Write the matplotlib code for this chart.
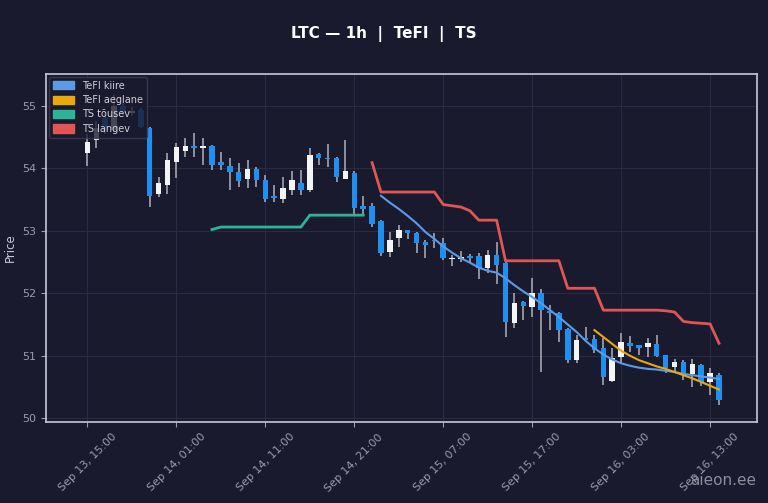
import numpy as np
import pandas as pd
import matplotlib
matplotlib.use("Agg")
import matplotlib.pyplot as plt
import matplotlib.dates as mdates
from matplotlib.patches import Patch

times = pd.date_range("2024-09-13 15:00", periods=72, freq="h")

opens = [54.25, 54.45, 54.80, 54.62, 55.00, 54.88, 54.94, 54.65, 53.59, 53.73,
         54.10, 54.28, 54.36, 54.33, 54.36, 54.10, 54.04, 53.94, 53.83, 53.99,
         53.81, 53.56, 53.51, 53.65, 53.77, 53.65, 54.23, 54.17, 54.17, 53.83,
         53.93, 53.40, 53.40, 53.16, 52.66, 52.88, 53.01, 52.96, 52.82, 52.85,
         52.80, 52.55, 52.55, 52.60, 52.60, 52.40, 52.61, 52.48, 51.52, 51.86,
         51.78, 52.00, 51.71, 51.68, 51.43, 50.93, 51.28, 51.27, 51.12, 50.60,
         50.98, 51.20, 51.17, 51.14, 51.19, 51.01, 50.82, 50.90, 50.71, 50.85,
         50.58, 50.70]
highs = [54.55, 54.75, 54.90, 55.18, 55.05, 54.98, 54.96, 54.66, 53.86, 54.25,
         54.41, 54.49, 54.57, 54.49, 54.38, 54.26, 54.17, 54.09, 54.13, 54.02,
         53.89, 53.73, 53.86, 53.96, 53.97, 54.33, 54.25, 54.39, 54.18, 54.46,
         53.95, 53.56, 53.45, 53.18, 52.98, 53.09, 53.02, 52.98, 52.85, 52.96,
         52.88, 52.61, 52.68, 52.63, 52.64, 52.69, 52.82, 52.50, 52.00, 51.88,
         52.24, 52.07, 51.81, 51.70, 51.45, 51.33, 51.46, 51.33, 51.28, 51.12,
         51.36, 51.31, 51.18, 51.28, 51.33, 51.02, 50.95, 50.93, 50.95, 50.87,
         50.80, 50.73]
lows = [54.04, 54.33, 54.55, 54.58, 54.85, 54.84, 54.64, 53.38, 53.54, 53.59,
        53.85, 54.18, 54.18, 54.05, 53.97, 53.97, 53.65, 53.70, 53.69, 53.70,
        53.46, 53.46, 53.45, 53.57, 53.57, 53.62, 54.05, 54.02, 53.78, 53.83,
        53.27, 53.27, 53.06, 52.60, 52.58, 52.74, 52.87, 52.64, 52.56, 52.72,
        52.54, 52.44, 52.50, 52.48, 52.23, 52.32, 52.15, 51.30, 51.44, 51.57,
        51.62, 50.74, 51.41, 51.22, 50.88, 50.88, 51.25, 51.04, 50.53, 50.58,
        50.88, 51.06, 51.01, 50.98, 50.98, 50.72, 50.72, 50.61, 50.50, 50.51,
        50.37, 50.21]
closes = [54.42, 54.65, 54.62, 55.00, 54.88, 54.92, 54.66, 53.56, 53.77, 54.13,
          54.34, 54.36, 54.33, 54.35, 54.05, 54.05, 53.94, 53.80, 53.99, 53.81,
          53.51, 53.53, 53.69, 53.81, 53.65, 54.21, 54.17, 54.15, 53.86, 53.96,
          53.37, 53.35, 53.11, 52.64, 52.85, 53.01, 52.96, 52.80, 52.77, 52.83,
          52.56, 52.57, 52.58, 52.56, 52.40, 52.61, 52.45, 51.54, 51.84, 51.80,
          52.00, 51.73, 51.68, 51.42, 50.93, 51.25, 51.26, 51.09, 50.66, 50.97,
          51.22, 51.15, 51.12, 51.20, 50.99, 50.80, 50.90, 50.72, 50.87, 50.58,
          50.72, 50.29]

# TeFI kiire from candle 33, TeFI aeglane from candle 57
tefi_fast = [53.56, 53.45, 53.35, 53.24, 53.12, 52.98, 52.87, 52.75, 52.65, 52.56,
             52.49, 52.41, 52.36, 52.33, 52.24, 52.13, 52.03, 51.94, 51.84, 51.73,
             51.62, 51.50, 51.38, 51.24, 51.12, 51.02, 50.94, 50.88, 50.84, 50.81,
             50.79, 50.78, 50.76, 50.74, 50.71, 50.69, 50.67, 50.65, 50.63]
tefi_slow = [51.41, 51.30, 51.19, 51.08, 51.00, 50.93, 50.88, 50.83, 50.79, 50.74,
             50.69, 50.64, 50.58, 50.52, 50.46]
# TS tõusev candles 14..31, TS langev candles 32..71
ts_up = [53.02, 53.06, 53.06, 53.06, 53.06, 53.06, 53.06, 53.06, 53.06, 53.06,
         53.06, 53.25, 53.25, 53.25, 53.25, 53.25, 53.25, 53.25]
ts_down = [54.09, 53.62, 53.62, 53.62, 53.62, 53.62, 53.62, 53.62, 53.42, 53.40,
           53.38, 53.32, 53.17, 53.17, 53.17, 52.52, 52.52, 52.52, 52.52, 52.52,
           52.52, 52.52, 52.08, 52.08, 52.08, 52.08, 51.73, 51.73, 51.73, 51.73,
           51.73, 51.73, 51.73, 51.72, 51.70, 51.55, 51.53, 51.52, 51.51, 51.20]

bg = "#1a1a2e"
up_col = "#f4f4f4"
dn_col = "#1e90f0"
fast_col = "#5b9be6"
slow_col = "#e8a90c"
up_ts_col = "#2bb596"
dn_ts_col = "#e05555"

fig = plt.figure(figsize=(7.68, 5.03), dpi=100, facecolor=bg)
ax = fig.add_axes([0.060, 0.161, 0.926, 0.692])
ax.set_facecolor(bg)

o = np.array(opens)
c = np.array(closes)
cols = [up_col if cc >= oo else dn_col for oo, cc in zip(o, c)]
w = 0.62 / 24
ax.vlines(times, lows, highs, color="#b0b0bc", linewidth=1.1, zorder=2)
bottoms = np.minimum(o, c)
heights = np.maximum(np.abs(c - o), 0.02)
ax.bar(times, heights, bottom=bottoms, width=w, color=cols, linewidth=0, zorder=3)

ax.plot(times[33:], tefi_fast, color=fast_col, linewidth=1.5, zorder=4)
ax.plot(times[57:], tefi_slow, color=slow_col, linewidth=1.5, zorder=4)
ax.plot(times[14:32], ts_up, color=up_ts_col, linewidth=2, zorder=4)
ax.plot(times[32:], ts_down, color=dn_ts_col, linewidth=2, zorder=4)

ax.set_xlim(times[0] - pd.Timedelta(hours=4.65), times[0] + pd.Timedelta(hours=75.3))
ax.set_ylim(49.94, 55.51)
ax.set_yticks([50, 51, 52, 53, 54, 55])
ax.set_xticks(times[::10])
ax.xaxis.set_major_formatter(mdates.DateFormatter("%b %d, %H:%M"))
ax.tick_params(axis="x", labelrotation=45, colors="#9a9aaa", labelsize=8)
ax.tick_params(axis="y", colors="#9a9aaa", labelsize=8)
ax.grid(True, color="#2a2a42", linewidth=0.8)
for s in ax.spines.values():
    s.set_color("#c8c8d4")
    s.set_linewidth(1.2)
ax.set_ylabel("Price", color="#c8c8d4", fontsize=8.5)

handles = [Patch(color=fast_col, label="TeFI kiire"),
           Patch(color=slow_col, label="TeFI aeglane"),
           Patch(color=up_ts_col, label="TS tõusev"),
           Patch(color=dn_ts_col, label="TS langev")]
leg = ax.legend(handles=handles, loc="upper left", fontsize=7, facecolor=bg,
                edgecolor="#3c3c55", framealpha=0.8, labelcolor="#d0d0d8",
                handlelength=2.2, handleheight=0.9, labelspacing=0.45,
                borderaxespad=0.3)
leg.set_zorder(6)

fig.text(0.5, 0.932, "LTC — 1h  |  TeFI  |  TS", color="white", fontsize=11,
         fontweight="bold", ha="center", va="center")
fig.text(0.985, 0.03, "aieon.ee", color="#8c8c9a", fontsize=11, ha="right", va="bottom")

fig.savefig("out.png", dpi=100, facecolor=bg)
